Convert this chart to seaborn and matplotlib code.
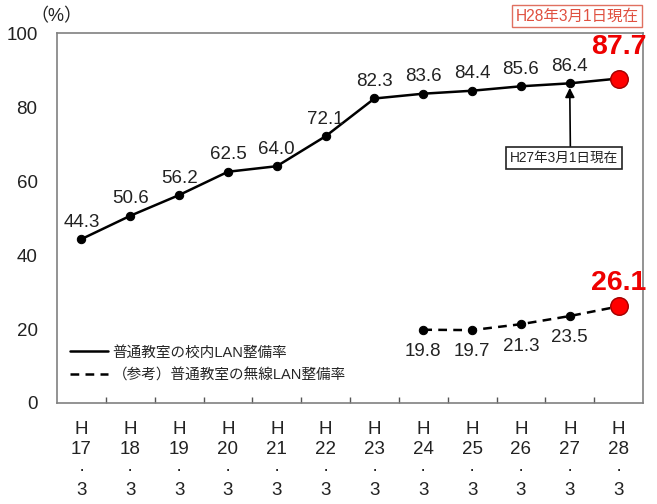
import matplotlib
matplotlib.use("Agg")
import matplotlib.pyplot as plt
import seaborn as sns
import pandas as pd
import numpy as np
from matplotlib.lines import Line2D

# Survey years (Heisei era, as of March)
years = ["17", "18", "19", "20", "21", "22", "23", "24", "25", "26", "27", "28"]
# LAN coverage of regular classrooms (%)
lan_rate = [44.3, 50.6, 56.2, 62.5, 64.0, 72.1, 82.3, 83.6, 84.4, 85.6, 86.4, 87.7]
# Wireless LAN coverage of regular classrooms (%), from H24
wifi_years = ["24", "25", "26", "27", "28"]
wifi_rate = [19.8, 19.7, 21.3, 23.5, 26.1]

sns.set_theme(style="white")
plt.rcParams["font.family"] = ["Liberation Sans", "Noto Sans CJK JP", "DejaVu Sans"]

df_lan = pd.DataFrame({"pos": range(len(years)), "rate": lan_rate})
df_wifi = pd.DataFrame({"pos": [years.index(y) for y in wifi_years], "rate": wifi_rate})

fig = plt.figure(figsize=(6.57, 5.04), dpi=100)
ax = fig.add_axes([0.0868, 0.2004, 0.8919, 0.7341])

sns.lineplot(data=df_lan, x="pos", y="rate", ax=ax, color="black", lw=1.8,
             marker="o", markersize=6, markeredgecolor="black")
sns.lineplot(data=df_wifi, x="pos", y="rate", ax=ax, color="black", lw=1.8,
             linestyle=(0, (3.5, 2.5)), marker="o", markersize=6, markeredgecolor="black")

# highlight the latest values
last = len(years) - 1
ax.scatter([last], [lan_rate[-1]], s=160, color="#ff0000", edgecolor="#a00000", lw=1, zorder=5)
ax.scatter([last], [wifi_rate[-1]], s=160, color="#ff0000", edgecolor="#a00000", lw=1, zorder=5)

# value labels
for i, v in enumerate(lan_rate[:-1]):
    ax.text(i, v + 2.3, f"{v:.1f}", ha="center", va="bottom", fontsize=13.5, color="#222222")
ax.text(last, lan_rate[-1] + 5.0, f"{lan_rate[-1]:.1f}", ha="center", va="bottom",
        fontsize=20.5, fontweight="bold", color="#ee0000")
for y, v in zip(wifi_years[:-1], wifi_rate[:-1]):
    ax.text(years.index(y), v - 3.6, f"{v:.1f}", ha="center", va="top", fontsize=13.5, color="#222222")
ax.text(last, wifi_rate[-1] + 2.8, f"{wifi_rate[-1]:.1f}", ha="center", va="bottom",
        fontsize=20.5, fontweight="bold", color="#ee0000")

# callout for the previous year's survey date
ax.annotate("H27年3月1日現在", xy=(10, lan_rate[10] - 1.2), xytext=(9.88, 66.2),
            ha="center", va="center", fontsize=9.8, color="#222222",
            bbox=dict(boxstyle="square,pad=0.3", fc="white", ec="#222222", lw=1.2),
            arrowprops=dict(arrowstyle="-|>", color="black", lw=1.2, mutation_scale=14,
                            shrinkA=0, shrinkB=0, relpos=(0.56, 1.0)))

ax.set_xlim(-0.5, len(years) - 0.5)
ax.set_ylim(0, 100)
ax.set_yticks(range(0, 101, 20))
ax.set_yticklabels([str(t) for t in range(0, 101, 20)], fontsize=13.5, color="#222222")
ax.set_xticks(range(len(years)))
ax.set_xticklabels([f"H\n{y}\n·\n3" for y in years], fontsize=13.5, color="#222222",
                   linespacing=1.25)
ax.set_xticks(np.arange(0.5, len(years) - 0.5, 1), minor=True)
ax.tick_params(axis="x", which="major", length=0, pad=13)
ax.tick_params(axis="x", which="minor", direction="in", length=4, width=1, color="#555555", bottom=True)
ax.tick_params(axis="y", length=0, pad=14)
ax.set_xlabel("")
ax.set_ylabel("")
for s in ax.spines.values():
    s.set_color("#808080")
    s.set_linewidth(1.2)

# legend
handles = [Line2D([0], [0], color="black", lw=1.8),
           Line2D([0], [0], color="black", lw=1.8, linestyle=(0, (3.5, 2.5)))]
ax.legend(handles, ["普通教室の校内LAN整備率", "（参考）普通教室の無線LAN整備率"],
          loc="lower left", bbox_to_anchor=(0.0, 0.02), frameon=False, fontsize=10.5,
          handlelength=2.6, handletextpad=0.3, labelspacing=0.6)

fig.text(30 / 657, 1 - 17 / 504, "（%）", fontsize=13, ha="left", va="center", color="#222222")
fig.text(577 / 657, 1 - 16 / 504, "H28年3月1日現在", fontsize=11.2, ha="center", va="center",
         color="#e05040",
         bbox=dict(boxstyle="square,pad=0.25", fc="white", ec="#e07060", lw=1))

fig.savefig("out.png", dpi=100)
